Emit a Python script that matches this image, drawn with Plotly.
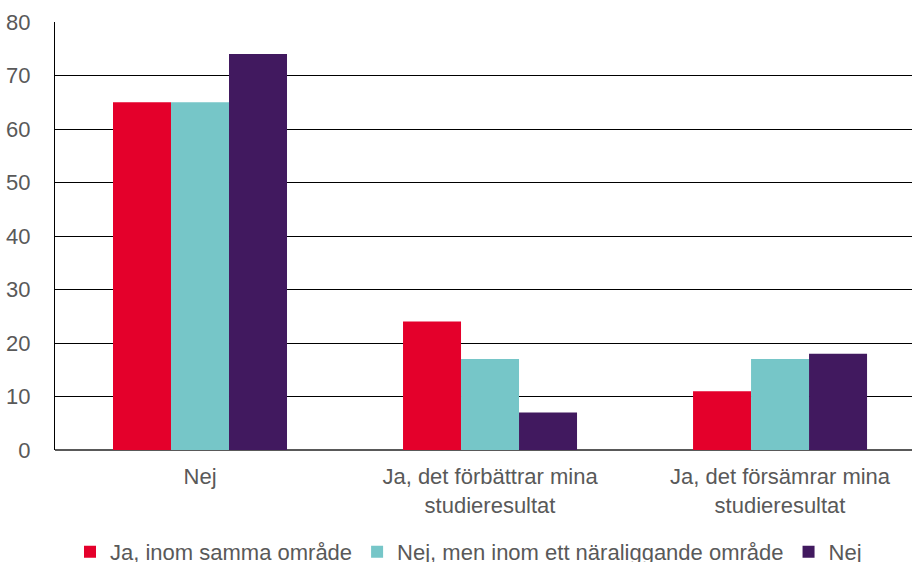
import plotly.graph_objects as go

categories = [
    "Nej",
    "Ja, det förbättrar mina<br>studieresultat",
    "Ja, det försämrar mina<br>studieresultat",
]
series_names = [
    "Ja, inom samma område",
    "Nej, men inom ett näraliggande område",
    "Nej",
]
values_same = [65, 24, 11]
values_near = [65, 17, 17]
values_no = [74, 7, 18]
colors = ["#E4002B", "#76C6C8", "#41195F"]

y_ticks = [0, 10, 20, 30, 40, 50, 60, 70, 80]

text_color = "#595959"
font_family = "Liberation Sans, Arial, sans-serif"
fs = 22

fig = go.Figure()
for name, vals, col in zip(series_names, [values_same, values_near, values_no], colors):
    fig.add_trace(go.Bar(
        name=name,
        x=categories,
        y=vals,
        marker=dict(color=col, line=dict(width=0)),
    ))

fig.update_layout(
    width=912,
    height=562,
    barmode="group",
    bargap=0.4,
    bargroupgap=0,
    plot_bgcolor="white",
    paper_bgcolor="white",
    font=dict(family=font_family, size=fs, color=text_color),
    margin=dict(l=55, r=0, t=22, b=112, autoexpand=False),
    showlegend=True,
    legend=dict(
        orientation="h",
        x=0.4825,
        xanchor="center",
        y=-0.238,
        yanchor="middle",
        font=dict(size=fs, color=text_color),
        itemwidth=30,
        traceorder="normal",
    ),
    xaxis=dict(
        range=[-0.5, 2.455],
        showgrid=False,
        showline=False,
        ticks="",
        tickfont=dict(size=fs, color=text_color),
        ticklabelstandoff=11,
    ),
    yaxis=dict(
        range=[0, 80],
        tickvals=y_ticks,
        showgrid=True,
        gridcolor="#000000",
        gridwidth=1,
        zeroline=True,
        zerolinecolor="#595959",
        zerolinewidth=2,
        showline=True,
        linecolor="#000000",
        linewidth=1,
        ticks="",
        tickfont=dict(size=fs, color=text_color),
        ticklabelstandoff=19,
        layer="below traces",
    ),
)

fig.write_html("out.html")
